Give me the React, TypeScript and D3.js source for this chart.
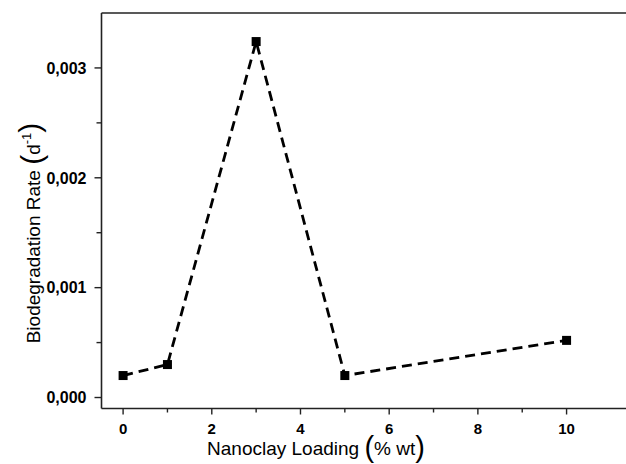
import React from 'react';
import * as d3 from 'd3';

const loading = [0, 1, 3, 5, 10];
const rate = [0.0002, 0.0003, 0.00324, 0.0002, 0.00052];
const xTicks = [0, 2, 4, 6, 8, 10];
const xMinor = [1, 3, 5, 7, 9];
const yTicks = [0, 0.001, 0.002, 0.003];
const yMinor = [0.0005, 0.0015, 0.0025];

const W = 626;
const H = 464;
const left = 101.5;
const top = 13;
const bottom = 408.5;

const App = () => {
  const x = d3.scaleLinear().domain([-0.487, 11.34]).range([left, W]);
  const y = d3.scaleLinear().domain([-0.0001, 0.0035]).range([bottom, top]);
  const fmt = (v: number) => d3.format('.3f')(v).replace('.', ',');

  const line = d3.line<number>()
    .x((d, i) => x(loading[i]))
    .y(d => y(d));

  const font = 'Arial, "Liberation Sans", sans-serif';
  const s = 9;

  return (
    <svg width={W} height={H} style={{ position: 'absolute', left: 0, top: 0, background: '#fff' }}>
      <path d={line(rate) || ''} fill="none" stroke="#000" strokeWidth={2.8} strokeDasharray="10,6" />
      {rate.map((d, i) => (
        <rect key={i} x={x(loading[i]) - s / 2} y={y(d) - s / 2} width={s} height={s} fill="#000" />
      ))}

      {/* axes */}
      <line x1={left} x2={W} y1={top} y2={top} stroke="#222" strokeWidth={1.6} />
      <line x1={left} x2={left} y1={top} y2={bottom} stroke="#222" strokeWidth={1.6} />
      <line x1={left} x2={W} y1={bottom} y2={bottom} stroke="#222" strokeWidth={1.6} />

      {xTicks.map(t => (
        <g key={t}>
          <line x1={x(t)} x2={x(t)} y1={bottom} y2={bottom + 6} stroke="#222" strokeWidth={1.4} />
          <text x={x(t)} y={433.5} textAnchor="middle" fontFamily={font} fontWeight="bold" fontSize={15}>{t}</text>
        </g>
      ))}
      {xMinor.map(t => (
        <line key={t} x1={x(t)} x2={x(t)} y1={bottom} y2={bottom + 4} stroke="#222" strokeWidth={1.4} />
      ))}

      {yTicks.map(t => (
        <g key={t}>
          <line x1={left - 7} x2={left} y1={y(t)} y2={y(t)} stroke="#222" strokeWidth={1.4} />
          <text x={left - 15} y={y(t)} dy="0.36em" textAnchor="end" fontFamily={font} fontWeight="bold" fontSize={16}>{fmt(t)}</text>
        </g>
      ))}
      {yMinor.map(t => (
        <line key={t} x1={left - 5} x2={left} y1={y(t)} y2={y(t)} stroke="#222" strokeWidth={1.4} />
      ))}

      {/* axis titles */}
      <text x={316} y={455} textAnchor="middle" fontFamily={font} fontSize={19}>
        Nanoclay Loading <tspan fontSize={29} dy={2}>(</tspan><tspan fontSize={19} dy={-2}>% wt</tspan><tspan fontSize={29} dy={2}>)</tspan>
      </text>
      <text transform="translate(40,233) rotate(-90)" textAnchor="middle" fontFamily={font} fontSize={19}>
        Biodegradation Rate <tspan fontSize={30} dy={2}>(</tspan><tspan fontSize={19} dy={-2}>d</tspan><tspan fontSize={13} dy={-9}>-1</tspan><tspan fontSize={30} dy={9}>)</tspan>
      </text>
    </svg>
  );
};

export default App;
